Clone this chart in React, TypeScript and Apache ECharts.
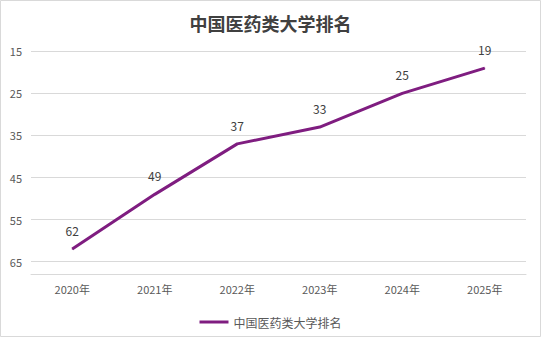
import React, { useEffect, useRef } from "react";
import * as echarts from "echarts";

const titleText = "中国医药类大学排名";
const years = ["2020年", "2021年", "2022年", "2023年", "2024年", "2025年"];
const ranks = [62, 49, 37, 33, 25, 19];
const yMin = 15;
const yMax = 68;
const yInterval = 10;

const FONT = "'Noto Sans CJK SC', 'Noto Sans', sans-serif";
const LINE_COLOR = "#7f1d80";

export default function App() {
  const ref = useRef<HTMLDivElement>(null);
  useEffect(() => {
    document.body.style.margin = "0";
    if (!ref.current) return;
    const chart = echarts.init(ref.current, null, { renderer: "svg" });
    chart.setOption({
      animation: false,
      backgroundColor: "#ffffff",
      title: {
        text: titleText,
        left: "center",
        top: 9,
        textStyle: {
          fontFamily: FONT,
          fontSize: 18,
          fontWeight: "bold",
          color: "#404040",
        },
      },
      graphic: [
        {
          type: "rect",
          shape: { x: 0.5, y: 0.5, width: 540, height: 336 },
          style: { fill: "none", stroke: "#d9d9d9", lineWidth: 1 },
          silent: true,
        },
      ],
      legend: {
        left: "center",
        top: 311,
        icon: "rect",
        itemWidth: 29,
        itemHeight: 3,
        textStyle: { fontFamily: FONT, fontSize: 12, color: "#595959" },
        data: [titleText],
      },
      grid: { left: 31, right: 15, top: 51.3, bottom: 62.7 },
      xAxis: {
        type: "category",
        data: years,
        boundaryGap: true,
        axisLine: { show: true, onZero: false, lineStyle: { color: "#d9d9d9", width: 1 } },
        axisTick: { show: false },
        axisLabel: { fontFamily: FONT, fontSize: 11, color: "#595959", margin: 9 },
      },
      yAxis: {
        type: "value",
        inverse: true,
        min: yMin,
        max: yMax,
        interval: yInterval,
        axisLine: { show: false },
        axisTick: { show: false },
        axisLabel: {
          fontFamily: FONT,
          fontSize: 11,
          color: "#595959",
          margin: 9,
          formatter: (v: number) => (v === yMax ? "" : String(v)),
        },
        splitLine: { lineStyle: { color: "#d9d9d9", width: 1 } },
      },
      series: [
        {
          name: titleText,
          type: "line",
          data: ranks,
          symbol: "circle",
          symbolSize: 1,
          showSymbol: true,
          itemStyle: { color: LINE_COLOR },
          lineStyle: { color: LINE_COLOR, width: 3 },
          label: {
            show: true,
            position: "top",
            distance: 12,
            fontFamily: FONT,
            fontSize: 12,
            color: "#404040",
          },
        },
      ],
    });
    return () => chart.dispose();
  }, []);
  return <div ref={ref} style={{ width: 541, height: 337 }} />;
}
